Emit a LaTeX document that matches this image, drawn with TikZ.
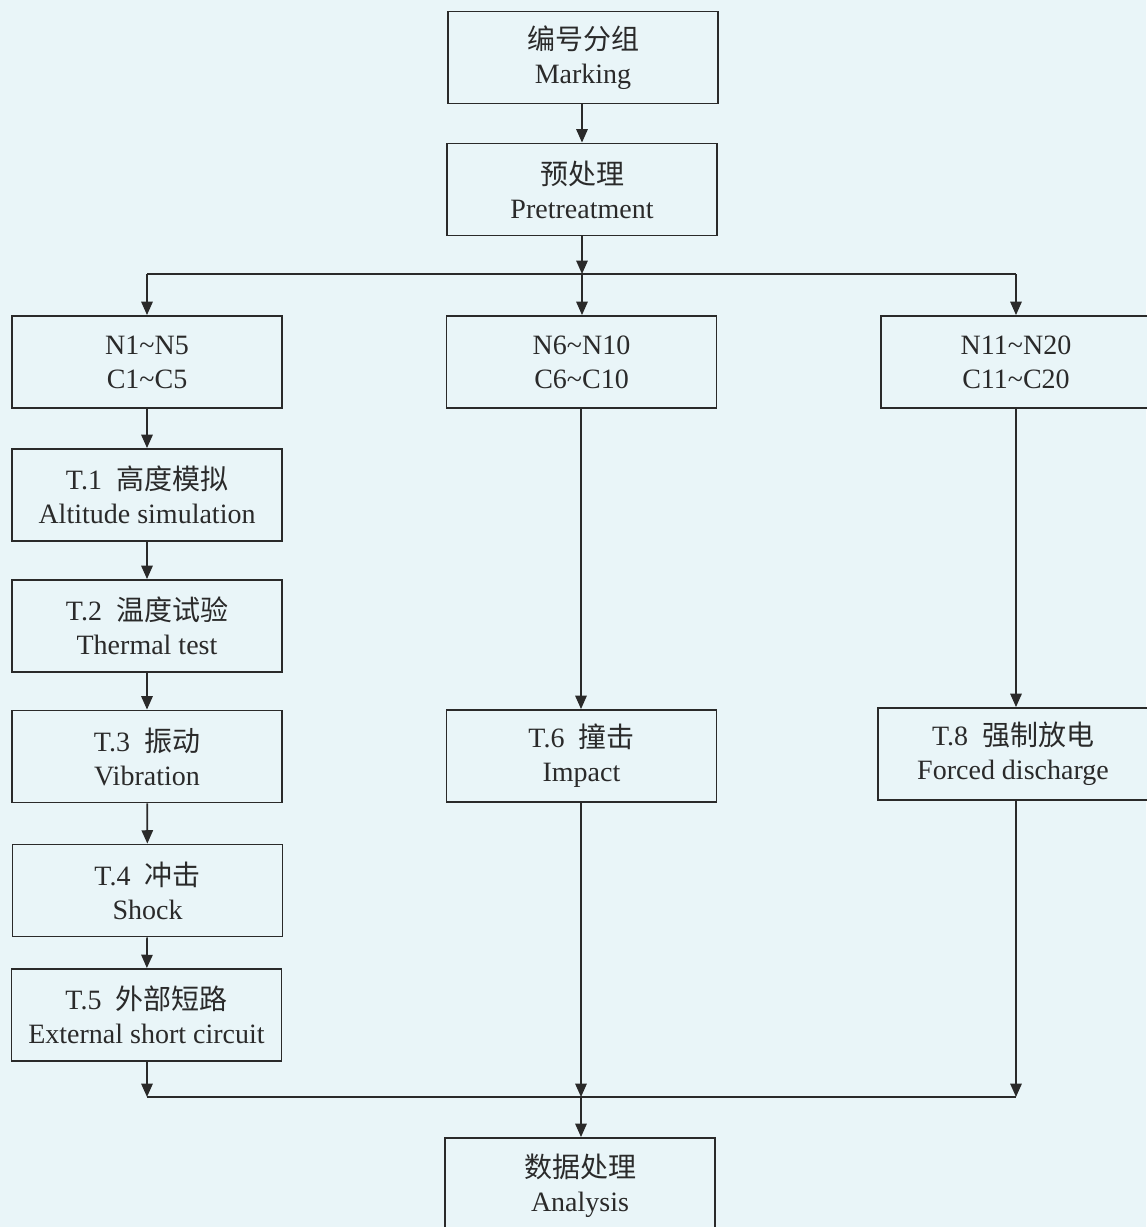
\documentclass[tikz,border=0pt]{standalone}
\usepackage{fontspec}
\setmainfont{Liberation Serif}
\newfontfamily\cjk{Noto Sans CJK SC}
\usetikzlibrary{arrows.meta}
\definecolor{paper}{HTML}{E9F5F8}
\definecolor{ink}{HTML}{2A2A2A}

\tikzset{
  block/.style={draw=ink, line width=1.4pt, fill=paper, text=ink,
    minimum width=202.5pt, minimum height=69pt, inner sep=0pt,
    align=center, font=\fontsize{21}{25.5}\selectfont},
  flow/.style={draw=ink, line width=1.3pt, -{Triangle[length=10pt,width=8.5pt]}},
  bus/.style={draw=ink, line width=1.3pt}
}

\begin{document}
\begin{tikzpicture}[x=0.75pt,y=-0.75pt]
  \useasboundingbox (0,0) rectangle (1146,1227);
  \fill[paper] (0,0) rectangle (1146,1227);

  % top of the flow
  \node[block] (M)   at (583,57.5)  {{\cjk 编号分组}\\Marking};
  \node[block] (P)   at (582,189.5) {{\cjk 预处理}\\Pretreatment};

  % three sample groups
  \node[block] (N1)  at (147,362)  {N1\textasciitilde N5\\C1\textasciitilde C5};
  \node[block] (N6)  at (581.5,362)  {N6\textasciitilde N10\\C6\textasciitilde C10};
  \node[block] (N11) at (1016,362)   {N11\textasciitilde N20\\C11\textasciitilde C20};

  % left column of tests
  \node[block] (T1)  at (147,495)    {T.1\enspace{\cjk 高度模拟}\\Altitude simulation};
  \node[block] (T2)  at (147,626)    {T.2\enspace{\cjk 温度试验}\\Thermal test};
  \node[block] (T3)  at (147,756.5)  {T.3\enspace{\cjk 振动}\\Vibration};
  \node[block] (T4)  at (147.5,890.5){T.4\enspace{\cjk 冲击}\\Shock};
  \node[block] (T5)  at (146.5,1015) {T.5\enspace{\cjk 外部短路}\\External short circuit};

  % middle and right tests
  \node[block] (T6)  at (581.5,756)  {T.6\enspace{\cjk 撞击}\\Impact};
  \node[block] (T8)  at (1013,754)   {T.8\enspace{\cjk 强制放电}\\Forced discharge};

  % result
  \node[block, minimum height=72pt] (A) at (580,1186) {{\cjk 数据处理}\\Analysis};

  \coordinate (split) at (582,274);
  \coordinate (join)  at (581,1097);

  % left column chain
  \draw[flow] (M.south -| split) -- (P.north -| split);
  \draw[flow] (N1) -- (T1);
  \draw[flow] (T1) -- (T2);
  \draw[flow] (T2) -- (T3);
  \draw[flow] (T3) -- (T4);
  \draw[flow] (T4) -- (T5);
  \draw[flow] (N6.south -| join) -- (T6.north -| join);
  \draw[flow] (N11.south) -- (N11.south |- T8.north);

  % splitting bus
  \draw[flow] (P.south -| split) -- (split);
  \draw[bus] (N1.north |- split) -- (N11.north |- split);
  \draw[flow] (N1.north |- split) -- (N1.north);
  \draw[flow] (split) -- (N6.north -| split);
  \draw[flow] (N11.north |- split) -- (N11.north);

  % joining bus
  \draw[flow] (T5.south -| N1) -- (N1 |- join);
  \draw[flow] (T6.south -| join) -- (join);
  \draw[flow] (N11.south |- T8.south) -- (N11.south |- join);
  \draw[bus] (N1 |- join) -- (N11.south |- join);
  \draw[flow] (join) -- (A.north -| join);
\end{tikzpicture}
\end{document}
